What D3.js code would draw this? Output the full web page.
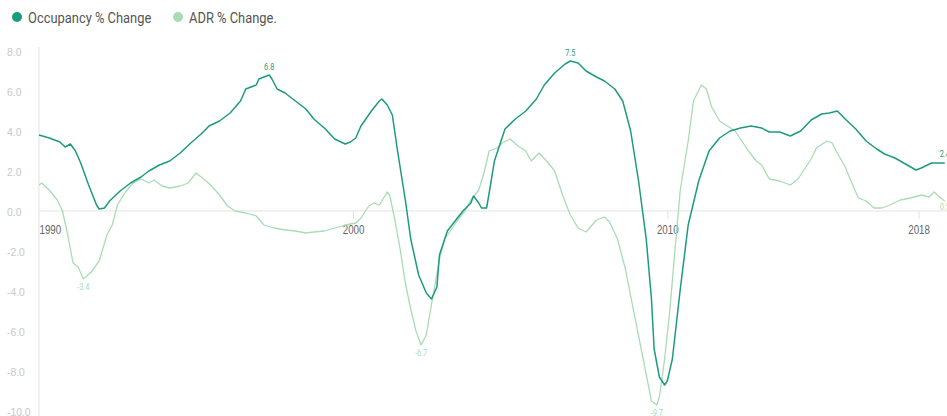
<!DOCTYPE html>
<html>
<head>
<meta charset="utf-8">
<script src="https://cdn.jsdelivr.net/npm/d3@7"></script>
<style>
  html, body { margin: 0; padding: 0; background: #fff; }
  svg { display: block; font-family: "Roboto", "Liberation Sans", sans-serif; }
</style>
</head>
<body>
<svg id="chart" width="947" height="416"></svg>
<script>
// Hotel performance: 12-month % change in occupancy and average daily rate (ADR)

const occDates = ["1990-01","1990-05","1990-09","1990-11","1991-01","1991-03","1991-05","1991-08","1991-11","1991-12",
  "1992-02","1992-04","1992-08","1992-12","1993-04","1993-07","1993-11","1994-03","1994-07","1994-11",
  "1995-03","1995-06","1995-10","1996-02","1996-06","1996-08","1996-12","1997-01","1997-03","1997-05",
  "1997-06","1997-08","1997-11","1998-03","1998-07","1998-10","1999-02","1999-06","1999-10","1999-12",
  "2000-02","2000-04","2000-08","2000-11","2000-12","2001-02","2001-04","2001-06","2001-09","2001-11",
  "2002-02","2002-05","2002-07","2002-09","2002-10","2003-01","2003-04","2003-07","2003-10","2003-11",
  "2004-01","2004-02","2004-04","2004-05","2004-07","2004-11","2005-03","2005-07","2005-11","2006-02",
  "2006-06","2006-10","2006-12","2007-03","2007-06","2007-10","2008-01","2008-05","2008-08","2008-11",
  "2009-02","2009-05","2009-07","2009-08","2009-10","2009-12","2010-01","2010-03","2010-06","2010-09",
  "2011-01","2011-05","2011-09","2012-01","2012-05","2012-09","2013-01","2013-04","2013-08","2013-12",
  "2014-04","2014-08","2014-12","2015-03","2015-06","2015-09","2016-01","2016-05","2016-09","2016-12",
  "2017-04","2017-08","2017-12","2018-02","2018-06","2018-09","2018-11"];
const occValues = [3.8,3.65,3.45,3.2,3.35,3.0,2.4,1.3,0.3,0.1,
  0.15,0.5,1.0,1.4,1.7,2.0,2.3,2.5,2.9,3.4,
  3.85,4.25,4.5,4.9,5.5,6.1,6.3,6.6,6.7,6.8,
  6.6,6.1,5.9,5.5,5.1,4.6,4.15,3.6,3.35,3.45,
  3.65,4.25,5.0,5.5,5.6,5.3,4.8,3.0,0.5,-1.4,
  -3.2,-4.1,-4.4,-3.8,-2.2,-1.0,-0.5,0.0,0.4,0.75,
  0.4,0.15,0.15,0.9,2.5,4.1,4.6,5.0,5.6,6.3,
  6.9,7.35,7.5,7.4,7.0,6.7,6.5,6.1,5.5,4.0,
  1.5,-1.4,-4.4,-6.9,-8.3,-8.7,-8.5,-7.4,-3.9,-0.7,
  1.5,3.0,3.65,4.0,4.15,4.25,4.15,3.95,3.95,3.75,
  4.0,4.55,4.85,4.9,5.0,4.6,4.1,3.5,3.1,2.85,
  2.65,2.35,2.05,2.15,2.4,2.4,2.4];

const adrDates = ["1990-01","1990-02","1990-05","1990-08","1990-10","1990-12","1991-02","1991-04","1991-06","1991-09",
  "1991-12","1992-03","1992-05","1992-07","1992-10","1993-01","1993-04","1993-07","1993-09","1993-12",
  "1994-03","1994-07","1994-10","1995-01","1995-04","1995-07","1995-10","1996-01","1996-04","1996-08",
  "1996-12","1997-03","1997-07","1997-11","1998-03","1998-07","1998-10","1999-02","1999-06","1999-10",
  "2000-02","2000-04","2000-07","2000-09","2000-11","2001-02","2001-03","2001-05","2001-07","2001-09",
  "2001-11","2002-01","2002-03","2002-05","2002-06","2002-08","2002-10","2002-12","2003-03","2003-05",
  "2003-08","2003-10","2004-01","2004-03","2004-05","2004-08","2004-10","2005-01","2005-04","2005-07",
  "2005-09","2005-12","2006-03","2006-06","2006-09","2006-12","2007-03","2007-06","2007-08","2007-10",
  "2008-01","2008-03","2008-06","2008-09","2008-12","2009-03","2009-06","2009-07","2009-09","2009-10",
  "2009-12","2010-02","2010-04","2010-06","2010-09","2010-11","2011-02","2011-04","2011-06","2011-09",
  "2011-12","2012-03","2012-06","2012-08","2012-11","2013-01","2013-04","2013-08","2013-12","2014-03",
  "2014-06","2014-08","2014-10","2015-02","2015-04","2015-06","2015-09","2015-11","2016-02","2016-05",
  "2016-08","2016-11","2017-02","2017-06","2017-10","2018-02","2018-05","2018-07","2018-09","2018-11"];
const adrValues = [1.3,1.4,1.05,0.55,0.0,-1.2,-2.6,-2.8,-3.4,-3.05,
  -2.5,-1.2,-0.7,0.3,0.95,1.4,1.6,1.4,1.55,1.25,
  1.15,1.25,1.4,1.9,1.6,1.25,0.8,0.25,0.0,-0.1,
  -0.25,-0.7,-0.85,-0.95,-1.0,-1.1,-1.05,-1.0,-0.85,-0.7,
  -0.6,-0.35,0.25,0.4,0.3,0.95,0.8,-0.45,-1.9,-3.65,
  -4.9,-6.0,-6.7,-6.2,-5.4,-3.9,-2.4,-1.4,-0.85,-0.45,
  0.05,0.55,1.05,1.9,3.0,3.15,3.4,3.6,3.25,3.0,
  2.5,2.9,2.5,2.0,0.8,-0.2,-0.85,-1.05,-0.75,-0.45,
  -0.3,-0.55,-1.4,-2.9,-4.9,-6.85,-8.85,-9.5,-9.7,-9.3,
  -7.4,-4.9,-1.9,1.05,3.5,5.5,6.3,6.1,5.2,4.5,
  4.25,4.0,3.4,3.0,2.5,2.3,1.6,1.5,1.3,1.6,
  2.2,2.6,3.15,3.5,3.4,2.9,2.2,1.55,0.65,0.5,
  0.15,0.15,0.3,0.55,0.65,0.8,0.7,0.95,0.7,0.5];

const yTicks = [8, 6, 4, 2, 0, -2, -4, -6, -8, -10];
const xTickYears = ["1990", "2000", "2010", "2018"];

const seriesNames = ["Occupancy % Change", "ADR % Change."];
const seriesColors = ["#1c9c7c", "#a9dcb3"];

const parseMonth = d3.timeParse("%Y-%m");
const parseYear = d3.timeParse("%Y");

const occ = occDates.map((d, i) => ({ date: parseMonth(d), value: occValues[i] }));
const adr = adrDates.map((d, i) => ({ date: parseMonth(d), value: adrValues[i] }));

const svg = d3.select("#chart");
const W = 947, H = 416;

// Squeeze text horizontally for a condensed typeface look
function condense(sel, factor) {
  sel.each(function () {
    const len = this.getComputedTextLength();
    d3.select(this).attr("textLength", len * factor).attr("lengthAdjust", "spacingAndGlyphs");
  });
}

const x = d3.scaleTime()
  .domain([parseYear("1990"), parseYear("2019")])
  .range([39, 950]);
const y = d3.scaleLinear().domain([-10, 8]).range([411, 51]);

// Y axis labels, left aligned in the margin
const yAxis = d3.axisLeft(y).tickValues(yTicks).tickSize(0).tickFormat(d => d.toFixed(1));
const gy = svg.append("g").attr("transform", `translate(${x.range()[0]},0)`).call(yAxis);
gy.select(".domain").remove();
gy.selectAll("text")
  .attr("x", -32).attr("text-anchor", "start").attr("dy", "0.35em")
  .attr("fill", "#c8c8c8").style("font-size", "11.5px")
  .call(condense, 0.9);

// Vertical axis rule
svg.append("line")
  .attr("x1", x.range()[0]).attr("x2", x.range()[0])
  .attr("y1", y(8) - 4).attr("y2", H)
  .attr("stroke", "#e3e3e3").attr("stroke-width", 1);

// Zero baseline
svg.append("line")
  .attr("x1", x.range()[0]).attr("x2", W)
  .attr("y1", y(0)).attr("y2", y(0))
  .attr("stroke", "#e3e3e3").attr("stroke-width", 1);

// X axis at zero
const xAxis = d3.axisBottom(x).tickValues(xTickYears.map(parseYear))
  .tickSize(8).tickPadding(6).tickFormat(d3.timeFormat("%Y"));
const gx = svg.append("g").attr("transform", `translate(0,${y(0)})`).call(xAxis);
gx.select(".domain").remove();
gx.selectAll(".tick line").attr("stroke", "#e3e3e3");
gx.selectAll("text").attr("fill", "#666").style("font-size", "12.5px");
gx.selectAll(".tick").filter((d, i) => i === 0).select("text").attr("text-anchor", "start").attr("x", 0);
gx.selectAll(".tick").filter((d, i) => i === 0).select("line").remove();
gx.selectAll("text").call(condense, 0.78);

// Lines
const line = d3.line().x(d => x(d.date)).y(d => y(d.value));
svg.append("path").datum(adr)
  .attr("fill", "none").attr("stroke", seriesColors[1]).attr("stroke-width", 1.3)
  .attr("stroke-linejoin", "round").attr("d", line);
svg.append("path").datum(occ)
  .attr("fill", "none").attr("stroke", seriesColors[0]).attr("stroke-width", 1.5)
  .attr("stroke-linejoin", "round").attr("d", line);

// Value annotations
function annotate(point, color, dx, dy, anchor) {
  svg.append("text")
    .attr("x", x(point.date) + dx).attr("y", y(point.value) + dy)
    .attr("text-anchor", anchor)
    .attr("fill", color).style("font-size", "9px")
    .text(point.value.toFixed(1))
    .call(condense, 0.82);
}
const occMax = occ.reduce((a, b) => (b.value > a.value ? b : a));
const occPeak1 = occ.filter(d => d.date < parseYear("2000")).reduce((a, b) => (b.value > a.value ? b : a));
annotate(occPeak1, seriesColors[0], 0, -5, "middle");
annotate(occMax, seriesColors[0], 0, -5, "middle");
annotate(occ[occ.length - 1], seriesColors[0], -5, -6, "start");

const adrMin1 = adr.filter(d => d.date < parseYear("1995")).reduce((a, b) => (b.value < a.value ? b : a));
const adrMin2 = adr.filter(d => d.date > parseYear("2001") && d.date < parseYear("2004")).reduce((a, b) => (b.value < a.value ? b : a));
const adrMin3 = adr.reduce((a, b) => (b.value < a.value ? b : a));
[adrMin1, adrMin2, adrMin3].forEach(p => annotate(p, seriesColors[1], 0, 11, "middle"));
annotate(adr[adr.length - 1], seriesColors[1], -5, 9, "start");

// Legend
const legend = svg.append("g");
const legendX = [17, 178];
seriesNames.forEach((name, i) => {
  legend.append("circle").attr("cx", legendX[i]).attr("cy", 17).attr("r", 5).attr("fill", seriesColors[i]);
  legend.append("text").attr("x", legendX[i] + 11).attr("y", 22.5)
    .attr("fill", "#555").style("font-size", "15px").text(name)
    .call(condense, 0.86);
});
</script>
</body>
</html>
